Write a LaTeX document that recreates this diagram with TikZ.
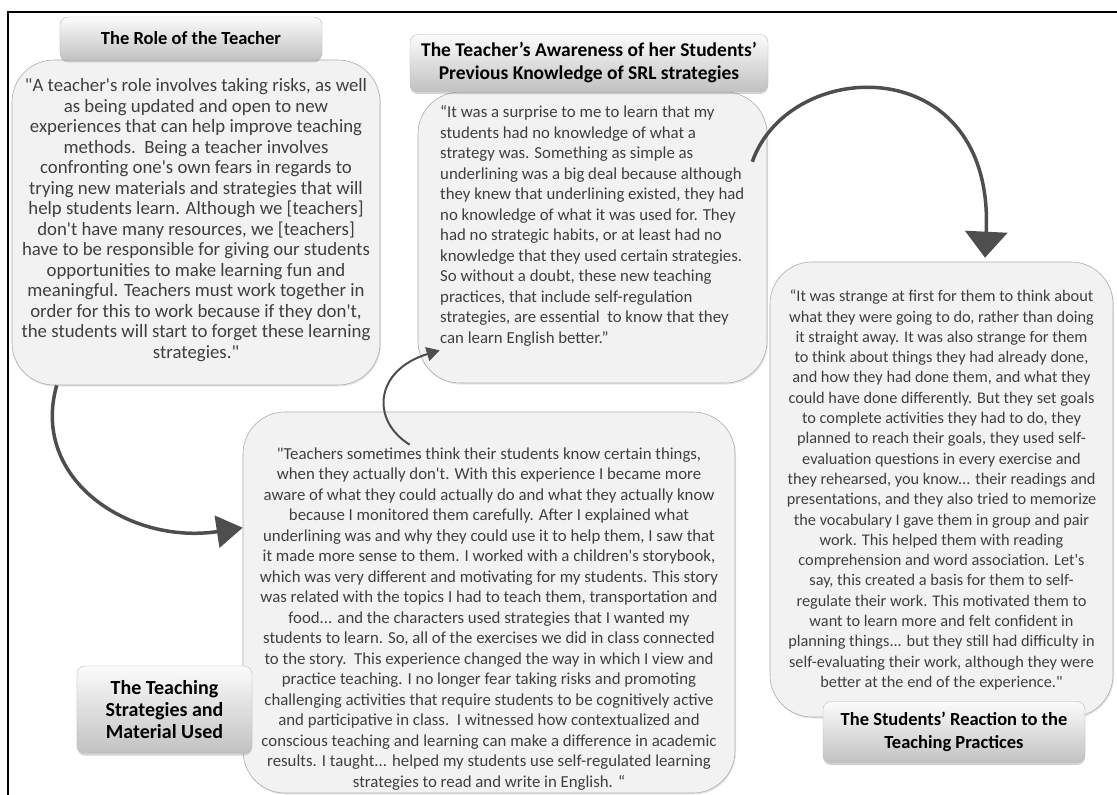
\documentclass[tikz,border=0pt]{standalone}
\usepackage{fontspec}
\setmainfont{Carlito}[Ligatures=TeXOff]
\usetikzlibrary{arrows.meta,calc,shadows}

\definecolor{quotegray}{HTML}{3F3F3F}
\definecolor{bubblefill}{HTML}{F2F2F2}
\definecolor{arrowgray}{HTML}{4E4E4E}

\begin{document}
\begin{tikzpicture}[x=1bp,y=-1bp,
    bubble/.style={draw=gray!65,fill=bubblefill,rounded corners=42bp,line width=0.6bp,
      drop shadow={opacity=0.2,shadow xshift=1bp,shadow yshift=-1.5bp}},
    quote/.style={text=quotegray,inner sep=0pt,font=\fontsize{16.8bp}{20.5bp}\selectfont},
    heading/.style={draw=gray!55,line width=0.4bp,rounded corners=8bp,
      top color=gray!3,bottom color=gray!48,align=center,inner sep=2bp,
      font=\bfseries\fontsize{18.5bp}{22.5bp}\selectfont,
      drop shadow={opacity=0.35,shadow xshift=0bp,shadow yshift=-2.5bp}},
    link/.style={draw=arrowgray,line width=3.5bp,-{Triangle[length=26bp,width=42bp]}}]
  \useasboundingbox (0,0) rectangle (1117,795);
  \draw[line width=2.5bp] (1117,12) -- (8,12) -- (8,795);

  % the four quotations
  \node[bubble,minimum width=368bp,minimum height=325bp] (b1) at (196,222.5) {};
  \node[quote,align=center,font=\fontsize{18.8bp}{20.5bp}\selectfont] (q1) at (196,220) {"A teacher's role involves taking risks, as well\\
    as being updated and open to new\\
    experiences that can help improve teaching\\
    methods.\ \ Being a teacher involves\\
    confronting one's own fears in regards to\\
    trying new materials and strategies that will\\
    help students learn. Although we [teachers]\\
    don't have many resources, we [teachers]\\
    have to be responsible for giving our students\\
    opportunities to make learning fun and\\
    meaningful. Teachers must work together in\\
    order for this to work because if they don't,\\
    the students will start to forget these learning\\
    strategies."};

  \node[bubble,minimum width=349bp,minimum height=291bp] (b2) at (592.5,237.5) {};
  \node[quote,align=left,anchor=west] (q2) at (440,226) {“It was a surprise to me to learn that my\\
    students had no knowledge of what a\\
    strategy was. Something as simple as\\
    underlining was a big deal because although\\
    they knew that underlining existed, they had\\
    no knowledge of what it was used for. They\\
    had no strategic habits, or at least had no\\
    knowledge that they used certain strategies.\\
    So without a doubt, these new teaching\\
    practices, that include self-regulation\\
    strategies, are essential\ \ to know that they\\
    can learn English better.”};

  \node[bubble,minimum width=492bp,minimum height=381bp] (b3) at (489,602.5) {};
  \node[quote,align=center] (q3) at (489,619) {"Teachers sometimes think their students know certain things,\\
    when they actually don't. With this experience I became more\\
    aware of what they could actually do and what they actually know\\
    because I monitored them carefully. After I explained what\\
    underlining was and why they could use it to help them, I saw that\\
    it made more sense to them. I worked with a children's storybook,\\
    which was very different and motivating for my students. This story\\
    was related with the topics I had to teach them, transportation and\\
    food... and the characters used strategies that I wanted my\\
    students to learn. So, all of the exercises we did in class connected\\
    to the story.\ \ This experience changed the way in which I view and\\
    practice teaching. I no longer fear taking risks and promoting\\
    challenging activities that require students to be cognitively active\\
    and participative in class.\ \ I witnessed how contextualized and\\
    conscious teaching and learning can make a difference in academic\\
    results. I taught... helped my students use self-regulated learning\\
    strategies to read and write in English. “};

  \node[bubble,minimum width=343bp,minimum height=455bp] (b4) at (941.5,489.5) {};
  \node[quote,align=center,font=\fontsize{16.3bp}{20.3bp}\selectfont] (q4) at (941.5,490) {“It was strange at first for them to think about\\
    what they were going to do, rather than doing\\
    it straight away. It was also strange for them\\
    to think about things they had already done,\\
    and how they had done them, and what they\\
    could have done differently. But they set goals\\
    to complete activities they had to do, they\\
    planned to reach their goals, they used self-\\
    evaluation questions in every exercise and\\
    they rehearsed, you know... their readings and\\
    presentations, and they also tried to memorize\\
    the vocabulary I gave them in group and pair\\
    work. This helped them with reading\\
    comprehension and word association. Let's\\
    say, this created a basis for them to self-\\
    regulate their work. This motivated them to\\
    want to learn more and felt confident in\\
    planning things... but they still had difficulty in\\
    self-evaluating their work, although they were\\
    better at the end of the experience."};

  % headings
  \node[heading,minimum width=262bp,minimum height=43bp] (h1) at (191,38.5) {The Role of the Teacher};
  \node[heading,minimum width=358bp,minimum height=57bp,font=\bfseries\fontsize{19.5bp}{23bp}\selectfont] (h2) at (589,63) {The Teacher’s Awareness of her Students’\\Previous Knowledge of SRL strategies};
  \node[heading,minimum width=175bp,minimum height=87bp,font=\bfseries\fontsize{20bp}{22bp}\selectfont] (h3) at (164.5,709.5) {The Teaching\\Strategies and\\Material Used};
  \node[heading,minimum width=262bp,minimum height=61bp] (h4) at (954,732) {The Students’ Reaction to the\\Teaching Practices};

  % arrows
  \draw[link,-{Triangle[length=26bp,width=32bp]}] ($(b1.south west)+(45,0)$) .. controls (30,480) and (130,545) .. ($(b3.north west)+(0,116)$);
  \draw[link,line width=2bp,-{Triangle[length=13bp,width=14bp]}] ($(b3.north west)+(167,33)$) .. controls (370,420) and (375,370) .. ($(b2.south west)+(22,-33)$);
  \draw[link] ($(b2.north east)+(-15,70)$) .. controls (790,55) and (995,50) .. ($(b4.north)+(43.5,-4)$);
\end{tikzpicture}
\end{document}
